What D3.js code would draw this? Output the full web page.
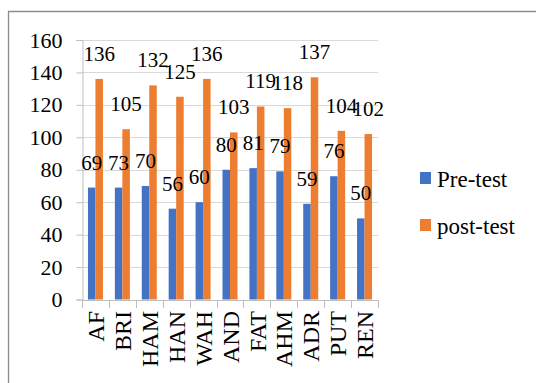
<!DOCTYPE html>
<html>
<head>
<meta charset="utf-8">
<script src="https://cdn.jsdelivr.net/npm/d3@7"></script>
<style>
  html, body { margin: 0; padding: 0; background: #fff; }
  svg { display: block; }
  svg text { font-family: "Liberation Serif", "Times New Roman", serif !important; fill: #000; }
</style>
</head>
<body>
<svg id="chart" width="536" height="383"></svg>
<script>
const categories = ["AF","BRI","HAM","HAN","WAH","AND","FAT","AHM","ADR","PUT","REN"];
const preTest   = [69, 69, 70, 56, 60, 80, 81, 79, 59, 76, 50];
const preLabels = ["69","73","70","56","60","80","81","79","59","76","50"];
const postTest  = [136, 105, 132, 125, 136, 103, 119, 118, 137, 104, 102];
const yTicks = [0, 20, 40, 60, 80, 100, 120, 140, 160];
const seriesNames = ["Pre-test", "post-test"];
const colors = ["#4472C4", "#ED7D31"];
const SERIF = '"Liberation Serif", "Times New Roman", serif';

const svg = d3.select("#chart");

// outer frame
svg.append("path")
  .attr("d", "M8.5,383 L8.5,11.5 L536,11.5")
  .attr("fill", "none").attr("stroke", "#8c8c8c").attr("stroke-width", 1.3);

const x = d3.scaleBand().domain(categories).range([82, 378]).padding(0);
const y = d3.scaleLinear().domain([0, 160]).range([299.5, 40]);
const bw = 7.5;

// gridlines
svg.append("g").selectAll("line").data(yTicks.filter(d => d > 0)).join("line")
  .attr("x1", 82).attr("x2", 378)
  .attr("y1", d => Math.round(y(d)) + 0.5).attr("y2", d => Math.round(y(d)) + 0.5)
  .attr("stroke", "#d9d9d9").attr("stroke-width", 1);

// y axis
const yAxis = d3.axisLeft(y).tickValues(yTicks).tickSize(6).tickPadding(14);
const gy = svg.append("g").attr("transform", "translate(82.5,0)").call(yAxis)
  .attr("font-family", SERIF).attr("font-size", 22);
gy.select(".domain").attr("stroke", "#bfbfbf");
gy.selectAll(".tick line").attr("stroke", "#bfbfbf");
gy.selectAll(".tick text")
  .style("font-family", SERIF)
  .style("font-size", "22px").attr("fill", "#000");

// bars
const g = svg.append("g");
g.selectAll("rect.pre").data(categories).join("rect").attr("class", "pre")
  .attr("x", (d) => x(d) + x.bandwidth() / 2 - bw)
  .attr("width", bw)
  .attr("y", (d, i) => y(preTest[i]))
  .attr("height", (d, i) => y(0) - y(preTest[i]))
  .attr("fill", colors[0]);
g.selectAll("rect.post").data(categories).join("rect").attr("class", "post")
  .attr("x", (d) => x(d) + x.bandwidth() / 2)
  .attr("width", bw)
  .attr("y", (d, i) => y(postTest[i]))
  .attr("height", (d, i) => y(0) - y(postTest[i]))
  .attr("fill", colors[1]);

// x axis
const xAxis = d3.axisBottom(x).tickSize(0).tickFormat("");
const gx = svg.append("g").attr("transform", "translate(0,300)").call(xAxis);
gx.select(".domain").attr("stroke", "#bfbfbf").attr("d", "M82,0.5H378");
const bounds = categories.map(c => x(c)).concat([x.range()[1]]);
gx.selectAll("line.bt").data(bounds).join("line").attr("class", "bt")
  .attr("x1", d => Math.round(d) + 0.5).attr("x2", d => Math.round(d) + 0.5)
  .attr("y1", 0).attr("y2", 8)
  .attr("stroke", "#bfbfbf");

// category labels
svg.append("g").selectAll("text").data(categories).join("text")
  .attr("transform", d => `translate(${x(d) + x.bandwidth() / 2},311) rotate(-90)`)
  .attr("text-anchor", "end")
  .attr("dy", "0.36em")
  .style("font-family", SERIF)
  .style("font-size", "24px")
  .text(d => d);

// data labels
svg.append("g").selectAll("text.lp").data(categories).join("text").attr("class", "lp")
  .attr("x", d => x(d) + x.bandwidth() / 2 - bw / 2)
  .attr("y", (d, i) => y(preTest[i]) - 18)
  .attr("text-anchor", "middle")
  .style("font-family", SERIF)
  .style("font-size", "21px")
  .text((d, i) => preLabels[i]);
svg.append("g").selectAll("text.lq").data(categories).join("text").attr("class", "lq")
  .attr("x", d => x(d) + x.bandwidth() / 2 + bw / 2)
  .attr("y", (d, i) => y(postTest[i]) - 18)
  .attr("text-anchor", "middle")
  .style("font-family", SERIF)
  .style("font-size", "21px")
  .text((d, i) => postTest[i]);

// legend
const leg = svg.append("g");
seriesNames.forEach((name, i) => {
  const ly = 172 + i * 47;
  leg.append("rect").attr("x", 420).attr("y", ly).attr("width", 11).attr("height", 12)
    .attr("fill", colors[i]);
  leg.append("text").attr("x", 437).attr("y", ly + 14.5)
    .style("font-family", SERIF)
    .style("font-size", "23px").text(name);
});
</script>
</body>
</html>
